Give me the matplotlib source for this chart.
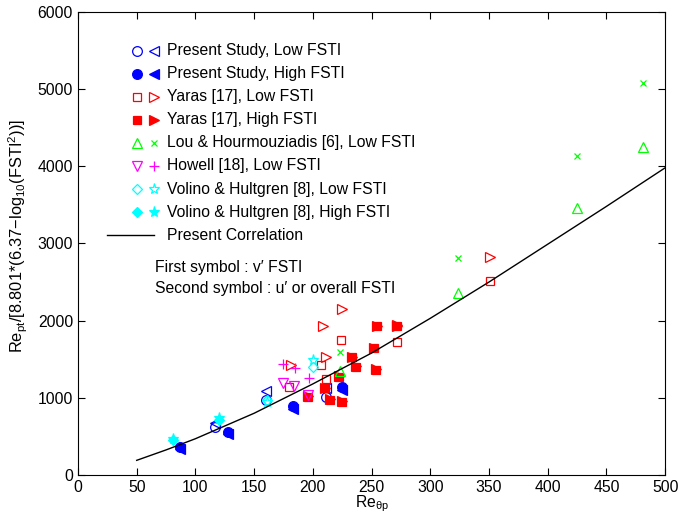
import matplotlib
matplotlib.use("Agg")
import matplotlib.pyplot as plt

plt.rcParams['font.family'] = ['Liberation Sans', 'DejaVu Sans']
plt.rcParams['mathtext.fontset'] = 'custom'
plt.rcParams['mathtext.rm'] = 'Liberation Sans'
plt.rcParams['mathtext.it'] = 'Liberation Sans:italic'

# Present study
ps_low_x = [117, 160, 211]
ps_low_circ = [626, 975, 1015]
ps_low_tri = [677, 1085, 1130]
ps_high_x = [87, 128, 183, 225]
ps_high_circ = [367, 561, 890, 1140]
ps_high_tri = [335, 530, 860, 1100]

# Yaras [17]
ya_low_x = [180, 207, 211, 224, 272, 351]
ya_low_sq = [1136, 1425, 1244, 1749, 1727, 2513]
ya_low_tri_x = [181, 209, 211, 225, 272, 351]
ya_low_tri = [1425, 1930, 1533, 2146, 1940, 2828]
ya_high_x = [196, 210, 215, 225, 222, 233, 237, 252, 254, 255, 272]
ya_high_sq = [1015, 1123, 971, 950, 1273, 1524, 1403, 1641, 1360, 1930, 1930]
ya_high_tri = [1025, 1133, 981, 960, 1283, 1530, 1410, 1650, 1370, 1935, 1935]

# Lou & Hourmouziadis [6]
lou_x = [223, 324, 425, 481]
lou_tri = [1351, 2353, 3463, 4245]
lou_x_mark = [1597, 2807, 4132, 5074]

# Howell [18]
how_x = [175, 184, 196]
how_tri = [1187, 1153, 1036]
how_plus_x = [175, 185, 197]
how_plus = [1438, 1382, 1252]

# Volino & Hultgren [8]
vo_low_x = [161, 200]
vo_low_dia = [975, 1403]
vo_low_star = [940, 1490]
vo_high_x = [81, 120]
vo_high_dia = [453, 712]
vo_high_star = [470, 740]

# Present correlation
corr_x = [50, 75, 100, 150, 200, 250, 300, 350, 400, 450, 500]
corr_y = [190, 325, 470, 800, 1180, 1580, 2030, 2500, 2990, 3480, 3980]

fig = plt.figure(figsize=(6.78, 5.18), dpi=100)
ax = fig.add_axes([0.115, 0.083, 0.866, 0.894])

ms = 7
series = [
    (ps_low_x, ps_low_circ, 'o', 'blue', False, ms),
    (ps_low_x, ps_low_tri, '<', 'blue', False, ms),
    (ps_high_x, ps_high_circ, 'o', 'blue', True, ms),
    (ps_high_x, ps_high_tri, '<', 'blue', True, ms),
    (ya_low_x, ya_low_sq, 's', 'red', False, 6),
    (ya_low_tri_x, ya_low_tri, '>', 'red', False, ms),
    (ya_high_x, ya_high_sq, 's', 'red', True, 6),
    (ya_high_x, ya_high_tri, '>', 'red', True, ms),
    (lou_x, lou_tri, '^', 'lime', False, ms),
    (lou_x, lou_x_mark, 'x', 'lime', False, 5),
    (how_x, how_tri, 'v', 'magenta', False, ms),
    (how_plus_x, how_plus, '+', 'magenta', False, ms),
    (vo_low_x, vo_low_dia, 'D', 'cyan', False, 5.5),
    (vo_low_x, vo_low_star, '*', 'cyan', False, 8),
    (vo_high_x, vo_high_dia, 'D', 'cyan', True, 5.5),
    (vo_high_x, vo_high_star, '*', 'cyan', True, 8),
]
for xs, ys, mk, col, filled, size in series:
    ax.plot(xs, ys, linestyle='none', marker=mk, markersize=size,
            markeredgecolor=col, markerfacecolor=col if filled else 'none',
            markeredgewidth=0.9)

ax.plot(corr_x, corr_y, color='k', linewidth=1)

# legend with two symbols per entry, drawn in axes coordinates
labels = ['Present Study, Low FSTI', 'Present Study, High FSTI',
          'Yaras [17], Low FSTI', 'Yaras [17], High FSTI',
          'Lou & Hourmouziadis [6], Low FSTI', 'Howell [18], Low FSTI',
          'Volino & Hultgren [8], Low FSTI', 'Volino & Hultgren [8], High FSTI']
row0, dy = 0.9164, 0.0498
for i, lab in enumerate(labels):
    yy = row0 - i * dy
    for j, k in enumerate((2 * i, 2 * i + 1)):
        xs, ys, mk, col, filled, size = series[k]
        ax.plot([0.101 + j * 0.0285], [yy], transform=ax.transAxes,
                linestyle='none', marker=mk, markersize=size,
                markeredgecolor=col, markerfacecolor=col if filled else 'none',
                markeredgewidth=0.9, clip_on=False)
    ax.text(0.151, yy, lab, transform=ax.transAxes, va='center', fontsize=11.3)
yy = row0 - 8 * dy
ax.plot([0.049, 0.129], [yy, yy], color='k', linewidth=1, transform=ax.transAxes)
ax.text(0.151, yy, 'Present Correlation', transform=ax.transAxes, va='center', fontsize=11.3)
ax.text(0.131, 0.4486, 'First symbol : v\u2032 FSTI', transform=ax.transAxes,
        va='center', fontsize=11.3)
ax.text(0.131, 0.4032, 'Second symbol : u\u2032 or overall FSTI', transform=ax.transAxes,
        va='center', fontsize=11.3)

ax.set_xlim(0, 500)
ax.set_ylim(0, 6000)
ax.set_xticks(range(0, 501, 50))
ax.set_yticks(range(0, 6001, 1000))
ax.tick_params(direction='in', top=True, right=True, length=5, labelsize=11.3)
ax.set_xlabel(r'Re$_{\mathregular{\theta p}}$', fontsize=11.3, labelpad=-1)
ax.set_ylabel(r'Re$_{\mathregular{pt}}$/[8.801*(6.37$-$log$_{\mathregular{10}}$(FSTI$^{\mathregular{2}}$))]',
              fontsize=11.8)
ax.yaxis.set_label_coords(-0.082, 0.515)

fig.savefig('out.png', dpi=100)
